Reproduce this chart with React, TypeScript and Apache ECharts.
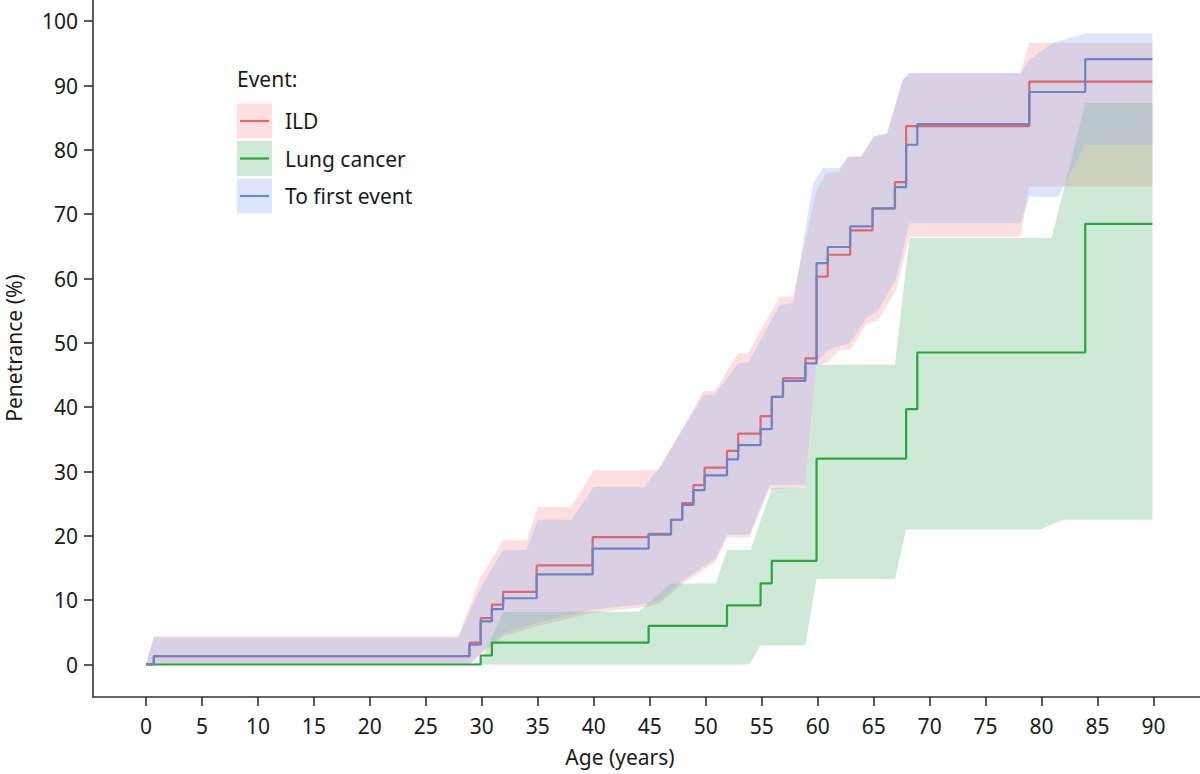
import * as echarts from 'echarts'
import { useEffect, useRef } from 'react'

type Pt = [number, number]

// Kaplan-Meier style step curves: [age, penetrance %]
const ildLine: Pt[] = [
  [0, 0], [0.7, 1.3], [28.9, 3.4], [29.9, 7.2], [30.9, 9.3], [31.9, 11.3], [34.9, 15.4],
  [39.9, 19.8], [44.9, 20.3], [46.9, 22.5], [47.9, 25.1], [48.9, 27.9], [49.9, 30.6],
  [51.9, 33.2], [52.9, 35.9], [54.9, 38.6], [55.9, 41.6], [56.9, 44.5], [58.9, 47.6],
  [59.9, 60.3], [60.9, 63.7], [62.9, 67.5], [64.9, 70.9], [66.9, 75.0], [67.9, 83.7],
  [78.9, 90.6], [89.9, 90.6],
]
const lungLine: Pt[] = [
  [0, 0], [29.9, 1.4], [30.9, 3.4], [44.9, 6.0], [51.9, 9.2], [54.9, 12.6], [55.9, 16.1],
  [59.9, 32.0], [67.9, 39.7], [68.9, 48.5], [83.9, 68.5], [89.9, 68.5],
]
const firstLine: Pt[] = [
  [0, 0], [0.7, 1.3], [28.9, 3.1], [29.9, 6.7], [30.9, 8.6], [31.9, 10.3], [34.9, 14.0],
  [39.9, 18.0], [44.9, 20.2], [46.9, 22.5], [47.9, 24.8], [48.9, 27.1], [49.9, 29.4],
  [51.9, 31.9], [52.9, 34.1], [54.9, 36.6], [55.9, 41.6], [56.9, 44.1], [58.9, 46.8],
  [59.9, 62.4], [60.9, 64.9], [62.9, 68.1], [64.9, 70.9], [66.9, 74.2], [67.9, 80.8],
  [68.9, 84.0], [78.9, 89.0], [83.9, 94.1], [89.9, 94.1],
]

// confidence bands (upper / lower edges)
const ildUpper: Pt[] = [
  [0, 0], [0.7, 4.4], [27.9, 4.4], [29.9, 13.6], [31.9, 19.3], [34.0, 19.3], [35.0, 24.5],
  [38.0, 24.5], [40.0, 30.2], [45.8, 30.2], [49.8, 42.5], [50.8, 42.5], [52.9, 48.4],
  [53.8, 48.4], [56.6, 57.2], [57.8, 57.2], [59.9, 73.8], [60.8, 76.4], [61.9, 76.6],
  [62.7, 78.9], [63.9, 79.0], [65.0, 82.1], [66.2, 82.6], [67.6, 90.9], [68.2, 91.9],
  [78.1, 91.9], [78.9, 96.6], [89.9, 96.6],
]
const ildLower: Pt[] = [
  [0, 0], [28.9, 0], [29.9, 1.5], [30.9, 3.0], [31.9, 4.3], [34.9, 6.0], [39.9, 8.0],
  [44.9, 9.0], [45.9, 9.5], [47.9, 12.5], [50.9, 16.0], [51.9, 19.8], [53.9, 19.8],
  [55.7, 27.2], [58.9, 27.4], [59.9, 46.5], [60.9, 47.0], [61.9, 48.9], [62.9, 49.0],
  [64.4, 53.0], [65.4, 53.5], [67.0, 58.2], [68.2, 66.5], [78.1, 66.5], [78.9, 74.3],
  [89.9, 74.3],
]
const lungUpper: Pt[] = [
  [0, 0], [28.9, 0], [29.9, 0.4], [31.9, 8.2], [44.0, 8.2], [46.9, 12.6], [50.9, 12.6],
  [51.9, 17.8], [54.0, 17.8], [55.9, 27.4], [58.9, 27.4], [59.9, 46.6], [66.9, 46.6],
  [68.2, 66.3], [80.9, 66.3], [83.9, 87.3], [89.9, 87.3],
]
const lungLower: Pt[] = [
  [0, 0], [53.9, 0], [54.9, 3.0], [58.9, 3.0], [59.9, 13.3], [66.9, 13.3], [67.9, 21.0],
  [79.9, 21.0], [81.9, 22.5], [89.9, 22.5],
]
const firstUpper: Pt[] = [
  [0, 0], [0.7, 4.2], [27.9, 4.2], [29.9, 12.0], [31.9, 17.8], [34.0, 17.8], [35.0, 22.5],
  [38.0, 22.5], [40.0, 27.6], [44.5, 27.6], [45.8, 30.5], [49.8, 41.8], [50.8, 42.0],
  [52.9, 46.8], [53.8, 47.0], [56.6, 55.8], [57.8, 56.2], [59.6, 74.8], [60.5, 77.2],
  [61.9, 77.2], [62.7, 78.9], [63.9, 79.0], [65.0, 82.1], [66.2, 82.6], [67.6, 90.9],
  [68.2, 91.9], [78.1, 91.9], [78.9, 94.0], [81.0, 96.6], [83.9, 98.1], [89.9, 98.1],
]
const firstLower: Pt[] = [
  [0, 0], [28.9, 0], [29.9, 1.8], [30.9, 3.3], [31.9, 4.8], [34.9, 6.5], [39.9, 8.5],
  [44.9, 9.5], [45.9, 10.0], [47.9, 13.0], [50.9, 16.5], [51.9, 20.2], [53.9, 20.2],
  [55.7, 27.9], [58.9, 28.0], [59.9, 47.0], [60.9, 48.9], [62.9, 50.0], [64.4, 54.0],
  [65.4, 55.0], [67.0, 60.0], [68.2, 68.6], [78.1, 68.6], [78.9, 72.7], [81.5, 72.7],
  [83.9, 80.8], [89.9, 80.8],
]

const xTicks = [0, 5, 10, 15, 20, 25, 30, 35, 40, 45, 50, 55, 60, 65, 70, 75, 80, 85, 90]
const yTicks = [0, 10, 20, 30, 40, 50, 60, 70, 80, 90, 100]

const eventNames = ['ILD', 'Lung cancer', 'To first event']
const lineColors = ['#e2666b', '#25a83c', '#6b84c8']
const bandColors = ['rgba(248,150,150,0.30)', 'rgba(60,170,90,0.25)', 'rgba(150,180,240,0.33)']

const FONT = '"Noto Sans", "Open Sans", sans-serif'
const TEXT = '#1a1a1a'
const AXIS = '#333'

const bandSeries = (upper: Pt[], lower: Pt[], fill: string) => ({
  type: 'custom',
  z: 1,
  silent: true,
  data: [[0, 0]],
  renderItem: (_p: any, api: any) => {
    const pts = upper.map(p => api.coord(p))
    for (let i = lower.length - 1; i >= 0; i--) pts.push(api.coord(lower[i]))
    return { type: 'polygon', shape: { points: pts }, style: { fill } }
  },
})

const lineSeries = (name: string, data: Pt[], color: string) => ({
  name,
  type: 'line',
  z: 3,
  step: 'end',
  showSymbol: false,
  data,
  lineStyle: { color, width: 2.2 },
})

const App = () => {
  const chartRef = useRef<HTMLDivElement | null>(null)
  useEffect(() => {
    if (!chartRef.current) return
    const myChart = echarts.init(chartRef.current, null, { renderer: 'svg' })
    const legendItems: any[] = []
    eventNames.forEach((n, i) => {
      const cy = 121 + i * 37.5
      legendItems.push(
        { type: 'rect', shape: { x: 237, y: cy - 17.5, width: 35, height: 35 }, style: { fill: bandColors[i] } },
        { type: 'line', shape: { x1: 240, y1: cy, x2: 269, y2: cy }, style: { stroke: lineColors[i], lineWidth: 2.2 } },
        { type: 'text', x: 285, y: cy, style: { text: n, font: `21px ${FONT}`, fill: TEXT, verticalAlign: 'middle' } },
      )
    })
    const option: any = {
      animation: false,
      grid: { left: 93, right: 0, top: 0, bottom: 77 },
      xAxis: {
        type: 'value',
        min: -4.73,
        max: 94.15,
        splitLine: { show: false },
        axisLine: { onZero: false, lineStyle: { color: AXIS, width: 1.6 } },
        axisTick: { customValues: xTicks, length: 9, lineStyle: { color: AXIS, width: 1.6 } },
        axisLabel: { customValues: xTicks, margin: 18, fontSize: 21, fontFamily: FONT, color: TEXT },
      },
      yAxis: {
        type: 'value',
        min: -5.05,
        max: 103.3,
        splitLine: { show: false },
        axisLine: { show: true, onZero: false, lineStyle: { color: AXIS, width: 1.6 } },
        axisTick: { show: true, customValues: yTicks, length: 9, lineStyle: { color: AXIS, width: 1.6 } },
        axisLabel: { customValues: yTicks, margin: 15, fontSize: 21, fontFamily: FONT, color: TEXT },
      },
      graphic: [
        { type: 'text', x: 237, y: 79, style: { text: 'Event:', font: `21px ${FONT}`, fill: TEXT, verticalAlign: 'middle' } },
        ...legendItems,
        { type: 'text', x: 620, y: 757, style: { text: 'Age (years)', font: `21px ${FONT}`, fill: TEXT, align: 'center', verticalAlign: 'middle' } },
        { type: 'text', x: 14, y: 348, rotation: Math.PI / 2, style: { text: 'Penetrance (%)', font: `21px ${FONT}`, fill: TEXT, align: 'center', verticalAlign: 'middle' } },
      ],
      series: [
        bandSeries(ildUpper, ildLower, bandColors[0]),
        bandSeries(lungUpper, lungLower, bandColors[1]),
        bandSeries(firstUpper, firstLower, bandColors[2]),
        lineSeries(eventNames[0], ildLine, lineColors[0]),
        lineSeries(eventNames[1], lungLine, lineColors[1]),
        lineSeries(eventNames[2], firstLine, lineColors[2]),
      ],
    }
    myChart.setOption(option)
    return () => {
      myChart.dispose()
    }
  }, [])
  return <div ref={chartRef} style={{ position: 'absolute', left: 0, top: 0, width: '1200px', height: '774px' }}></div>
}

export default App
